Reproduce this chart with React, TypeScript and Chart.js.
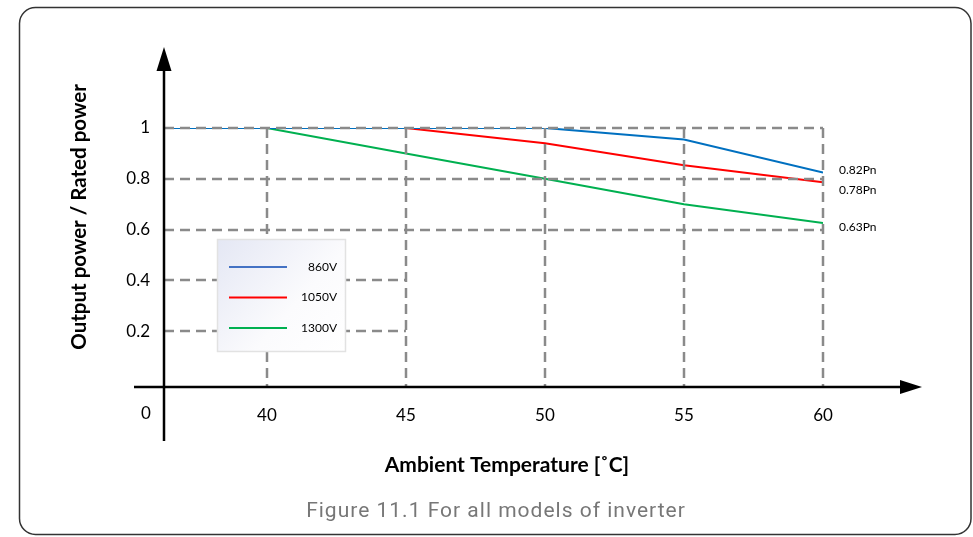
import React, { useEffect, useRef } from "react";
import { Chart, registerables } from "chart.js";

Chart.register(...registerables);

// ---- data ----
const temperatures = [40, 45, 50, 55, 60];
const xTickLabels = ["40", "45", "50", "55", "60"];
const yTicks = [0.2, 0.4, 0.6, 0.8, 1];
const yTickLabels = ["0.2", "0.4", "0.6", "0.8", "1"];
const seriesLabels = ["860V", "1050V", "1300V"];
const values860 = [1, 1, 1, 0.955, 0.825];
const values1050 = [1, 1, 0.94, 0.853, 0.786];
const values1300 = [1, 0.9, 0.8, 0.7, 0.626];
const endLabels = ["0.82Pn", "0.78Pn", "0.63Pn"];
const originLabel = "0";
const gridRowEnds = [45, 45, 60, 60, 60];
const X_ORIGIN = 36.3;
const X_MAX = 60;
const Y_MIN = -0.02;
const Y_MAX = 1;

const FONT = "Lato, 'Open Sans', sans-serif";
const plotColors = ["#0070C0", "#FF0000", "#00B050"];
const legendColors = ["#4472C4", "#FF0000", "#00B050"];

const decor = {
  id: "decor",
  beforeDraw(chart: any) {
    const { ctx } = chart;
    ctx.save();
    ctx.fillStyle = "#fff";
    ctx.fillRect(0, 0, chart.width, chart.height);
    ctx.strokeStyle = "#333";
    ctx.lineWidth = 1.5;
    ctx.beginPath();
    ctx.roundRect(19.5, 7.5, 951.5, 527, 16);
    ctx.stroke();
    ctx.restore();
  },
  afterDatasetsDraw(chart: any) {
    const { ctx, chartArea: ca } = chart;
    const x = chart.scales.x;
    const y = chart.scales.y;
    ctx.save();
    // dashed grid
    ctx.strokeStyle = "#8a8a8a";
    ctx.lineWidth = 2.5;
    ctx.setLineDash([10, 6]);
    yTicks.forEach((v, i) => {
      const py = Math.round(y.getPixelForValue(v));
      ctx.beginPath();
      ctx.moveTo(ca.left, py);
      ctx.lineTo(x.getPixelForValue(gridRowEnds[i]), py);
      ctx.stroke();
    });
    temperatures.forEach((t) => {
      const px = Math.round(x.getPixelForValue(t));
      ctx.beginPath();
      ctx.moveTo(px, y.getPixelForValue(Y_MAX));
      ctx.lineTo(px, ca.bottom);
      ctx.stroke();
    });
    ctx.setLineDash([]);

    // axes
    ctx.strokeStyle = "#000";
    ctx.fillStyle = "#000";
    ctx.lineWidth = 2.5;
    const ox = ca.left;
    const oy = ca.bottom;
    ctx.beginPath();
    ctx.moveTo(ox, oy + 54);
    ctx.lineTo(ox, ca.top - 60);
    ctx.stroke();
    ctx.beginPath();
    ctx.moveTo(ox, ca.top - 81);
    ctx.lineTo(ox - 7.5, ca.top - 57);
    ctx.lineTo(ox + 7.5, ca.top - 57);
    ctx.closePath();
    ctx.fill();
    ctx.beginPath();
    ctx.moveTo(ox - 30, oy);
    ctx.lineTo(ca.right + 80, oy);
    ctx.stroke();
    ctx.beginPath();
    ctx.moveTo(ca.right + 99, oy);
    ctx.lineTo(ca.right + 77, oy - 7);
    ctx.lineTo(ca.right + 77, oy + 7);
    ctx.closePath();
    ctx.fill();

    // origin label
    ctx.font = `17px ${FONT}`;
    ctx.textAlign = "center";
    ctx.textBaseline = "middle";
    ctx.fillText(originLabel, ox - 18, oy + 27);

    // end labels
    ctx.font = `12px ${FONT}`;
    ctx.textAlign = "left";
    const labelShift = [-2, 8, 4];
    chart.data.datasets.forEach((ds: any, i: number) => {
      const last = ds.data[ds.data.length - 1];
      ctx.fillText(endLabels[i], x.getPixelForValue(last.x) + 16, y.getPixelForValue(last.y) + labelShift[i]);
    });

    // legend box
    const lx = ca.left + 53;
    const ly = ca.top + 111;
    const lw = 128;
    const lh = 112;
    const g = ctx.createLinearGradient(lx, ly, lx + lw, ly + lh);
    g.addColorStop(0, "#e4e7f4");
    g.addColorStop(0.6, "#fbfbfd");
    g.addColorStop(1, "#ffffff");
    ctx.fillStyle = g;
    ctx.fillRect(lx, ly, lw, lh);
    ctx.strokeStyle = "#e2e2e2";
    ctx.lineWidth = 1.5;
    ctx.strokeRect(lx + 0.5, ly + 0.5, lw, lh);
    ctx.font = `12px ${FONT}`;
    ctx.textAlign = "right";
    ctx.fillStyle = "#000";
    chart.data.datasets.forEach((ds: any, i: number) => {
      const yy = ly + 28 + i * 30.5;
      ctx.strokeStyle = legendColors[i];
      ctx.lineWidth = 2;
      ctx.beginPath();
      ctx.moveTo(lx + 12, yy);
      ctx.lineTo(lx + 70, yy);
      ctx.stroke();
      ctx.fillText(ds.label, lx + 120, yy);
    });

    // titles
    ctx.fillStyle = "#000";
    ctx.textAlign = "center";
    ctx.font = `bold 21px ${FONT}`;
    ctx.fillText("Ambient Temperature [˚C]", 507, 465);
    ctx.save();
    ctx.translate(79, 217);
    ctx.rotate(-Math.PI / 2);
    ctx.font = `bold 20.5px ${FONT}`;
    ctx.fillText("Output power / Rated power", 0, 0);
    ctx.restore();
    ctx.fillStyle = "#777777";
    ctx.font = `21px Roboto, sans-serif`;
    (ctx as any).letterSpacing = "1px";
    ctx.fillText("Figure 11.1 For all models of inverter", 496, 512);
    (ctx as any).letterSpacing = "0px";
    ctx.restore();
  },
};

export default function App() {
  const ref = useRef<HTMLCanvasElement | null>(null);
  useEffect(() => {
    if (!ref.current) return;
    const series = [values860, values1050, values1300];
    const chart = new Chart(ref.current, {
      type: "line",
      data: {
        datasets: series.map((vals, i) => ({
          label: seriesLabels[i],
          data: [{ x: X_ORIGIN, y: vals[0] }, ...temperatures.map((t, j) => ({ x: t, y: vals[j] }))],
          borderColor: plotColors[i],
          backgroundColor: plotColors[i],
          borderWidth: 2,
          pointRadius: 0,
          tension: 0,
          fill: false,
        })),
      },
      options: {
        responsive: false,
        animation: false,
        devicePixelRatio: 1,
        layout: { padding: { left: 0, top: 128, right: 150, bottom: 0 } },
        plugins: { legend: { display: false }, tooltip: { enabled: false } },
        scales: {
          x: {
            type: "linear",
            min: X_ORIGIN,
            max: X_MAX,
            afterBuildTicks: (s: any) => {
              s.ticks = temperatures.map((v) => ({ value: v }));
            },
            afterFit: (s: any) => {
              s.height = 150;
            },
            grid: { display: false },
            border: { display: false },
            ticks: {
              autoSkip: false,
              maxRotation: 0,
              padding: 10,
              color: "#000",
              font: { family: FONT, size: 17 },
              callback: (v: any) => xTickLabels[temperatures.indexOf(v)],
            },
          },
          y: {
            type: "linear",
            min: Y_MIN,
            max: Y_MAX,
            afterBuildTicks: (s: any) => {
              s.ticks = yTicks.map((v) => ({ value: v }));
            },
            afterFit: (s: any) => {
              s.width = 164;
            },
            grid: { display: false },
            border: { display: false },
            ticks: {
              padding: 6,
              color: "#000",
              font: { family: FONT, size: 17 },
              callback: (v: any) => yTickLabels[yTicks.indexOf(v)],
            },
          },
        },
      },
      plugins: [decor],
    });
    return () => chart.destroy();
  }, []);
  return (
    <div style={{ position: "absolute", left: 0, top: 0, width: 973, height: 537 }}>
      <canvas ref={ref} width={973} height={537} />
    </div>
  );
}
